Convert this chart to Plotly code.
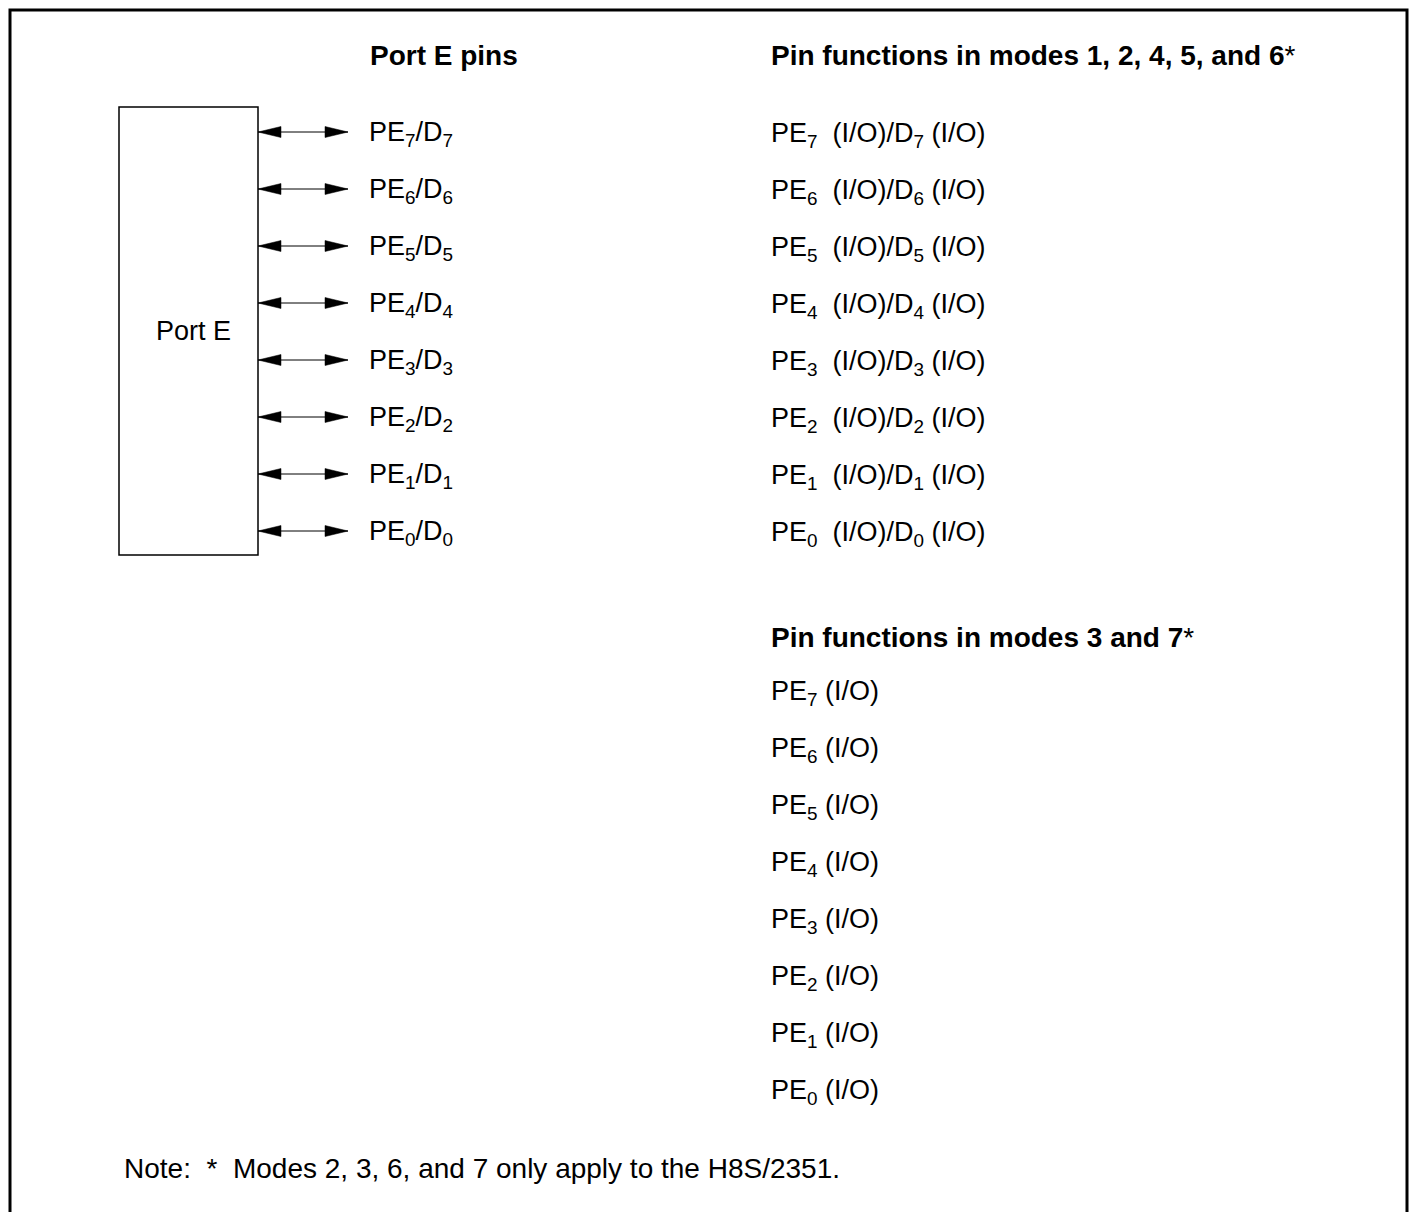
"""Port E pin function diagram (H8S/2357 style) drawn with plotly."""
import plotly.graph_objects as go

FONT = "Liberation Sans, Arial, sans-serif"
W, H = 1417, 1220
PAGE_PAD = 8  # default body margin of the html page

# ---- data -----------------------------------------------------------------
pin_bits = [7, 6, 5, 4, 3, 2, 1, 0]
block_label = "Port E"
left_header = "Port E pins"
header_a = "Pin functions in modes 1, 2, 4, 5, and 6"
header_b = "Pin functions in modes 3 and 7"
note_text = "Note:  *  Modes 2, 3, 6, and 7 only apply to the H8S/2351."

pin_labels = [f"PE<sub>{b}</sub>/D<sub>{b}</sub>" for b in pin_bits]
func_a = [f"PE<sub>{b}</sub>  (I/O)/D<sub>{b}</sub> (I/O)" for b in pin_bits]
func_b = [f"PE<sub>{b}</sub> (I/O)" for b in pin_bits]

# ---- layout constants (pixels) ---------------------------------------------
ROW0, ROW_STEP = 132, 57
ROW0_B = 693
BOX_X0, BOX_X1, BOX_Y0, BOX_Y1 = 119, 258, 107, 555
ARROW_END = 348
HEAD_LEN, HEAD_HALF = 23, 5.5
LABEL_X = 367
RIGHT_X = 769
FS = 27
FS_HEAD = 28

# visible page area (figure sits inside the body margin, no overflow)
X_LO, X_HI = PAGE_PAD, W - PAGE_PAD
Y_LO, Y_HI = PAGE_PAD, H - PAGE_PAD

fig = go.Figure()
shapes = []
annotations = []


def text(x, y, s, size=FS, anchor="left"):
    annotations.append(dict(x=x, y=y, text=s, showarrow=False, xanchor=anchor,
                            yanchor="middle", font=dict(family=FONT, size=size, color="black")))


# outer frame (open at the bottom)
shapes.append(dict(type="path",
                   path=f"M {X_LO + 2},{Y_HI + 5} L {X_LO + 2},{Y_LO + 2} "
                        f"L {X_HI - 2},{Y_LO + 2} L {X_HI - 2},{Y_HI + 5}",
                   line=dict(color="black", width=3)))

# port block
shapes.append(dict(type="rect", x0=BOX_X0, x1=BOX_X1, y0=BOX_Y0, y1=BOX_Y1,
                   line=dict(color="black", width=1.5)))
text((BOX_X0 + BOX_X1) / 2 + 5, (BOX_Y0 + BOX_Y1) / 2, block_label, anchor="center")

text(368, 55, f"<b>{left_header}</b>", size=FS_HEAD)
text(RIGHT_X, 55, f"<b>{header_a}</b>*", size=FS_HEAD)

for i, (pl, fa) in enumerate(zip(pin_labels, func_a)):
    y = ROW0 + i * ROW_STEP
    # bidirectional arrow
    shapes.append(dict(type="line", x0=BOX_X1, x1=ARROW_END, y0=y, y1=y,
                       line=dict(color="black", width=1)))
    shapes.append(dict(type="path",
                       path=f"M {BOX_X1},{y} L {BOX_X1 + HEAD_LEN},{y - HEAD_HALF} "
                            f"L {BOX_X1 + HEAD_LEN},{y + HEAD_HALF} Z",
                       fillcolor="black", line=dict(color="black", width=0.5)))
    shapes.append(dict(type="path",
                       path=f"M {ARROW_END},{y} L {ARROW_END - HEAD_LEN},{y - HEAD_HALF} "
                            f"L {ARROW_END - HEAD_LEN},{y + HEAD_HALF} Z",
                       fillcolor="black", line=dict(color="black", width=0.5)))
    text(LABEL_X, y + 2, pl)
    text(RIGHT_X, y + 3, fa)

text(RIGHT_X, 637, f"<b>{header_b}</b>*", size=FS_HEAD)
for i, fb in enumerate(func_b):
    text(RIGHT_X, ROW0_B + i * ROW_STEP, fb)

text(122, 1168, note_text, size=28)

fig.update_layout(
    width=X_HI - X_LO, height=Y_HI - Y_LO,
    margin=dict(l=0, r=0, t=0, b=0),
    paper_bgcolor="white", plot_bgcolor="white",
    xaxis=dict(range=[X_LO, X_HI], visible=False, fixedrange=True),
    yaxis=dict(range=[Y_HI, Y_LO], visible=False, fixedrange=True),
    shapes=shapes, annotations=annotations,
    showlegend=False,
)

fig.write_html("out.html")
